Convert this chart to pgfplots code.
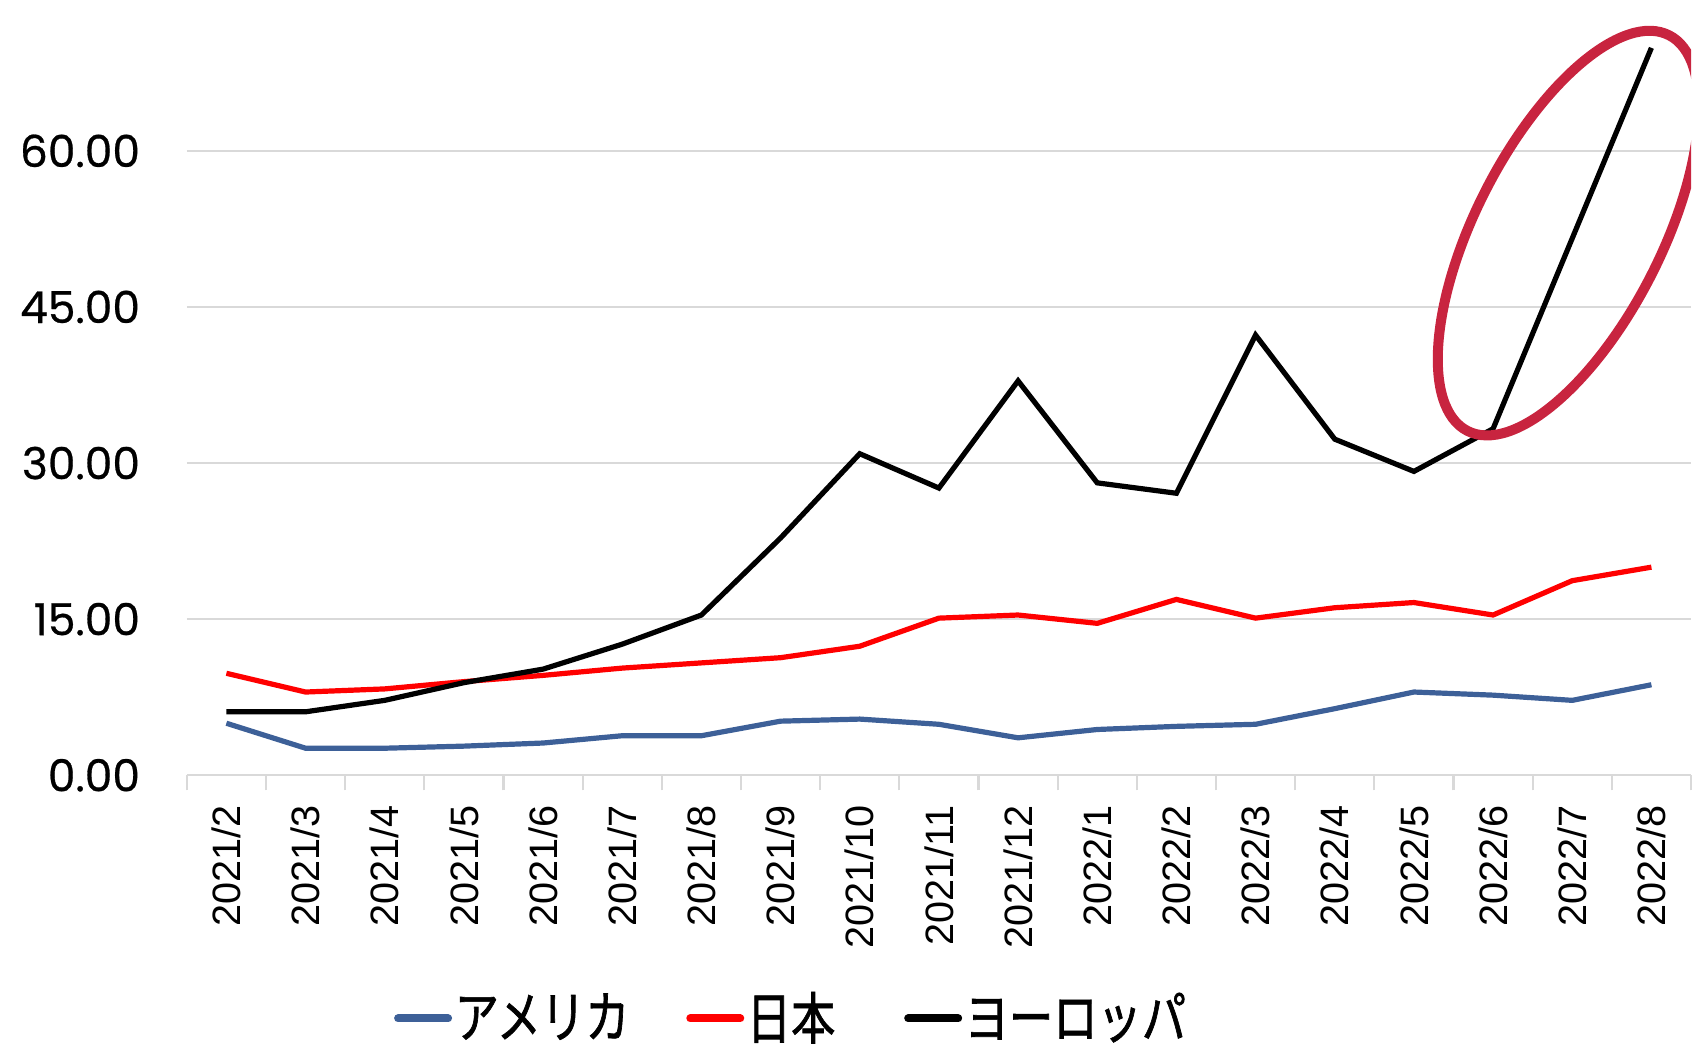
\documentclass[border=0pt]{standalone}
\usepackage{pgfplots}
\pgfplotsset{compat=1.18}
\usepackage{fontspec}
\setmainfont{Liberation Sans}
\newfontfamily\yfont[FakeBold=0.6]{Poppins}
\newfontfamily\jp[FakeStretch=0.79,FakeBold=1.2]{Noto Sans CJK JP}
\usetikzlibrary{shapes.geometric}
\definecolor{usblue}{HTML}{3D6098}
\definecolor{circ}{HTML}{C8243F}
\definecolor{gridgray}{HTML}{D9D9D9}

\begin{document}
\begin{tikzpicture}
\begin{axis}[
  name=ax,
  scale only axis,
  width=376pt, height=193.8pt,
  xmin=-0.5, xmax=18.5,
  ymin=0, ymax=74.5,
  axis line style={draw=none},
  ytick={0,15,30,45,60},
  yticklabels={0.00,15.00,30.00,45.00,60.00},
  ymajorgrids,
  grid style={gridgray, line width=0.55pt},
  xtick={0,...,18},
  xticklabels={2021/2,2021/3,2021/4,2021/5,2021/6,2021/7,2021/8,2021/9,2021/10,2021/11,2021/12,2022/1,2022/2,2022/3,2022/4,2022/5,2022/6,2022/7,2022/8},
  minor xtick={-0.5,0.5,...,18.5},
  major tick length=0pt,
  minor tick length=3.75pt,
  tick align=outside,
  xtick pos=lower, ytick pos=left,
  minor x tick style={gridgray, line width=0.55pt},
  xticklabel style={rotate=90, anchor=east, inner sep=0pt, font=\fontsize{9.9}{11}\selectfont},
  xticklabel shift=7.25pt,
  yticklabel style={anchor=east, inner sep=0pt, font=\yfont\fontsize{11}{12}\selectfont},
  yticklabel shift=11.5pt,
  legend columns=3,
  legend style={at={(0.1378,-0.3137)}, anchor=west, draw=none, fill=none, inner sep=0pt, outer sep=0pt,
    font=\jp\fontsize{14}{15}\selectfont,
    nodes={inner sep=0pt},
    /tikz/every even column/.append style={column sep=14.2pt}},
  legend cell align=left,
  legend image code/.code={\draw[#1, line width=2pt, line cap=round] (0.5pt,0pt) -- (13pt,0pt); \path (14pt,0pt);},
]
\addplot[usblue, line width=1.3pt] coordinates {
(0,5.0) (1,2.6) (2,2.6) (3,2.8) (4,3.1) (5,3.8) (6,3.8) (7,5.2) (8,5.4) (9,4.9)
(10,3.6) (11,4.4) (12,4.7) (13,4.9) (14,6.4) (15,8.0) (16,7.7) (17,7.2) (18,8.7)};
\addlegendentry{アメリカ}
\addplot[red, line width=1.3pt] coordinates {
(0,9.8) (1,8.0) (2,8.3) (3,9.0) (4,9.6) (5,10.3) (6,10.8) (7,11.3) (8,12.4) (9,15.1)
(10,15.4) (11,14.6) (12,16.9) (13,15.1) (14,16.1) (15,16.6) (16,15.4) (17,18.7) (18,20.0)};
\addlegendentry{日本\rule{3pt}{0pt}}
\addplot[black, line width=1.3pt] coordinates {
(0,6.1) (1,6.1) (2,7.2) (3,8.9) (4,10.2) (5,12.6) (6,15.4) (7,22.8) (8,30.9) (9,27.6)
(10,37.9) (11,28.1) (12,27.1) (13,42.3) (14,32.3) (15,29.2) (16,33.3) (17,51.6) (18,69.9)};
\addlegendentry{ヨーロッパ}
\node[draw=circ, line width=2.5pt, ellipse, minimum width=111pt, minimum height=46.5pt, inner sep=0pt, rotate=63] at (axis cs:16.95,52.1) {};
\end{axis}
\pgfresetboundingbox
\path[use as bounding box] ([shift={(-46.7pt,-67.45pt)}]ax.south west) rectangle ([shift={(0.5pt,0pt)}]ax.north east);
\end{tikzpicture}
\end{document}
